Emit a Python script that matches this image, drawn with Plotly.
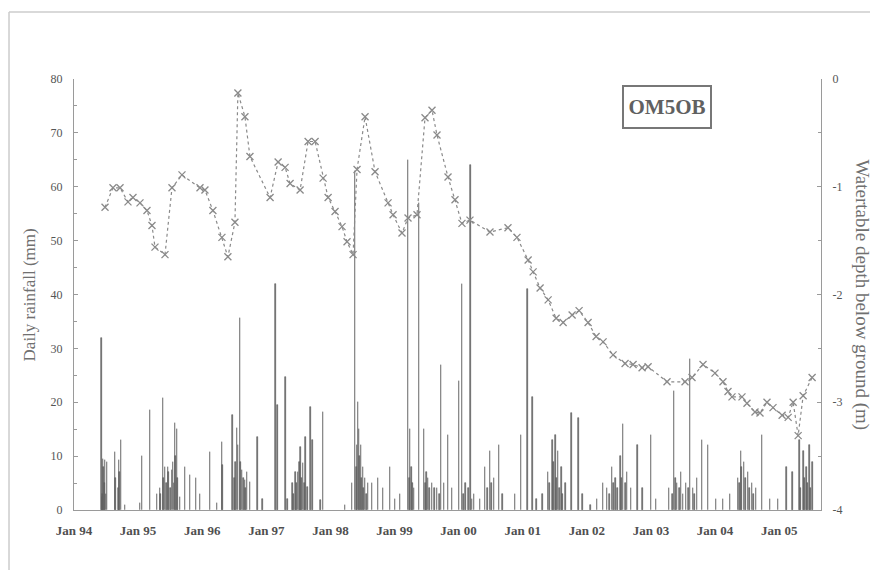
import datetime as dt
import plotly.graph_objects as go

# ---------------- data ----------------
# daily rainfall events (decimal year, mm)
rain_year = [
    1994.432, 1994.437, 1994.452, 1994.484, 1994.515, 1994.640, 1994.702, 1994.733, 1994.796,
    1995.030, 1995.061, 1995.186, 1995.295, 1995.342, 1995.388, 1995.420, 1995.466, 1995.529,
    1995.576, 1995.607, 1995.654, 1995.732, 1995.810, 1995.903, 1995.966,
    1996.122, 1996.231, 1996.309, 1996.324, 1996.480, 1996.543, 1996.590, 1996.621, 1996.668,
    1996.699, 1996.746, 1996.870, 1996.948,
    1997.136, 1997.167, 1997.292, 1997.323, 1997.401, 1997.448, 1997.494, 1997.526, 1997.572,
    1997.604, 1997.635, 1997.682, 1997.713, 1997.838, 1997.884,
    1998.228, 1998.337, 1998.384, 1998.430, 1998.446, 1998.477, 1998.508, 1998.540, 1998.586,
    1998.649, 1998.742, 1998.820, 1998.930,
    1999.008, 1999.086, 1999.210, 1999.242, 1999.304, 1999.382, 1999.460, 1999.522, 1999.585,
    1999.663, 1999.725, 1999.772, 1999.834, 1999.897,
    2000.006, 2000.053, 2000.115, 2000.193, 2000.240, 2000.334, 2000.412, 2000.490, 2000.552,
    2000.630, 2000.692, 2000.880, 2000.973,
    2001.067, 2001.145, 2001.207, 2001.301, 2001.394, 2001.457, 2001.504, 2001.550, 2001.597,
    2001.660, 2001.753, 2001.862, 2001.925,
    2002.050, 2002.159, 2002.252, 2002.315, 2002.393, 2002.440, 2002.518, 2002.564, 2002.627,
    2002.689, 2002.783, 2002.861,
    2003.001, 2003.079, 2003.282, 2003.360, 2003.407, 2003.469, 2003.547, 2003.610, 2003.656,
    2003.719, 2003.797, 2003.890,
    2004.015, 2004.124, 2004.234, 2004.358, 2004.405, 2004.452, 2004.514, 2004.577, 2004.639,
    2004.733, 2004.858, 2004.982,
    2005.107, 2005.201, 2005.310, 2005.372, 2005.419, 2005.466, 2005.513,
    # smaller days inside the wet-season clusters
    1994.445, 1994.460, 1994.470, 1994.500, 1994.650, 1994.690, 1994.712,
    1995.350, 1995.400, 1995.440, 1995.480, 1995.500, 1995.545, 1995.560, 1995.590, 1995.620,
    1996.500, 1996.520, 1996.560, 1996.600, 1996.640, 1996.680,
    1997.420, 1997.470, 1997.510, 1997.550, 1997.590,
    1998.400, 1998.415, 1998.460, 1998.490, 1998.520, 1998.560,
    1999.230, 1999.260, 1999.280, 1999.480, 1999.500, 1999.540, 1999.620, 1999.700,
    2000.080, 2000.160, 2000.210, 2000.450, 2000.520,
    2001.420, 2001.480, 2001.530, 2001.570, 2001.620,
    2002.350, 2002.420, 2002.480, 2002.540, 2002.600,
    2003.330, 2003.380, 2003.440, 2003.500, 2003.580, 2003.680,
    2004.380, 2004.420, 2004.480, 2004.540, 2004.600,
    2005.330, 2005.390, 2005.440, 2005.490,
]
rain_mm = [
    32.0, 2.4, 9.5, 9.3, 9.0, 10.8, 9.3, 13.0, 1.0,
    1.3, 10.0, 18.5, 3.0, 4.0, 20.7, 8.0, 8.0, 7.4,
    16.1, 15.0, 2.4, 8.0, 6.5, 6.0, 3.0,
    10.8, 1.3, 12.6, 8.3, 17.6, 15.2, 35.6, 7.4, 5.6,
    7.0, 5.2, 13.5, 2.0,
    42.0, 19.5, 24.7, 2.0, 5.0, 7.0, 7.0, 11.7, 8.7,
    13.5, 4.3, 19.1, 13.0, 1.9, 18.2,
    1.0, 5.0, 63.0, 20.0, 15.0, 12.0, 8.0, 6.0, 5.0,
    5.0, 6.0, 4.0, 8.0,
    2.0, 3.0, 65.0, 15.0, 4.0, 57.0, 15.0, 6.0, 5.0,
    4.0, 27.0, 5.0, 14.0, 4.0,
    24.0, 42.0, 5.0, 64.0, 3.0, 2.0, 8.0, 11.0, 6.0,
    12.0, 3.0, 3.0, 14.0,
    41.0, 21.0, 2.0, 3.0, 7.0, 13.0, 14.0, 11.0, 8.0,
    5.0, 18.0, 17.0, 3.0,
    1.0, 2.0, 5.0, 4.0, 8.0, 6.0, 10.0, 16.0, 7.0,
    4.0, 12.0, 4.0,
    14.0, 2.0, 4.0, 22.0, 5.0, 7.0, 5.0, 28.0, 4.0,
    6.0, 13.0, 12.0,
    2.0, 2.0, 3.0, 6.0, 11.0, 9.0, 7.0, 5.0, 4.0,
    14.0, 2.0, 2.0,
    8.0, 7.0, 13.0, 11.0, 8.0, 12.0, 9.0,
    3.0, 8.0, 5.0, 3.0, 6.0, 4.0, 7.0,
    3.0, 6.0, 5.0, 7.0, 4.0, 9.0, 5.0, 10.0, 6.0,
    6.0, 9.0, 12.0, 9.0, 6.0, 4.0,
    3.0, 5.0, 9.0, 6.0, 5.0,
    8.0, 12.0, 10.0, 6.0, 4.0, 3.0,
    6.0, 8.0, 5.0, 5.0, 7.0, 4.0, 4.0, 3.0,
    3.0, 4.0, 2.0, 4.0, 5.0,
    5.0, 9.0, 6.0, 4.0, 3.0,
    3.0, 5.0, 4.0, 6.0, 5.0,
    3.0, 6.0, 4.0, 3.0, 4.0, 3.0,
    5.0, 8.0, 6.0, 4.0, 3.0,
    4.0, 6.0, 5.0, 4.0,
]

# watertable depth below ground (decimal year, m)
wt_year = [
    1994.484, 1994.608, 1994.718, 1994.842, 1994.920, 1995.030, 1995.139, 1995.217, 1995.264,
    1995.420, 1995.529, 1995.685, 1995.966, 1996.044, 1996.168, 1996.309, 1996.402, 1996.512,
    1996.558, 1996.668, 1996.746, 1997.058, 1997.183, 1997.292, 1997.370, 1997.526, 1997.651,
    1997.760, 1997.885, 1997.963, 1998.072, 1998.181, 1998.259, 1998.353, 1998.415, 1998.540,
    1998.696, 1998.899, 1998.977, 1999.117, 1999.211, 1999.351, 1999.476, 1999.585, 1999.663,
    1999.835, 1999.944, 2000.053, 2000.178, 2000.490, 2000.771, 2000.911, 2001.083, 2001.161,
    2001.270, 2001.395, 2001.520, 2001.629, 2001.769, 2001.878, 2002.019, 2002.144, 2002.253,
    2002.409, 2002.596, 2002.721, 2002.861, 2002.955, 2003.251, 2003.532, 2003.641, 2003.813,
    2004.000, 2004.125, 2004.203, 2004.265, 2004.421, 2004.499, 2004.624, 2004.702, 2004.811,
    2004.905, 2005.045, 2005.139, 2005.217, 2005.295, 2005.373, 2005.513,
]
wt_depth = [
    -1.19, -1.01, -1.01, -1.14, -1.10, -1.15, -1.22, -1.36, -1.56,
    -1.63, -1.01, -0.89, -1.01, -1.03, -1.22, -1.47, -1.65, -1.33,
    -0.13, -0.35, -0.72, -1.10, -0.77, -0.82, -0.97, -1.03, -0.58,
    -0.58, -0.92, -1.10, -1.23, -1.37, -1.51, -1.63, -0.84, -0.35,
    -0.86, -1.15, -1.26, -1.43, -1.29, -1.26, -0.36, -0.29, -0.52,
    -0.91, -1.12, -1.34, -1.31, -1.42, -1.38, -1.47, -1.68, -1.79,
    -1.94, -2.05, -2.22, -2.26, -2.19, -2.15, -2.26, -2.39, -2.44,
    -2.56, -2.64, -2.65, -2.68, -2.67, -2.81, -2.81, -2.77, -2.65,
    -2.73, -2.81, -2.90, -2.95, -2.95, -3.01, -3.09, -3.10, -3.00,
    -3.05, -3.12, -3.14, -3.00, -3.31, -2.94, -2.77,
]

tick_years = list(range(1994, 2006))
tick_text = ["Jan 94", "Jan 95", "Jan 96", "Jan 97", "Jan 98", "Jan 99",
             "Jan 00", "Jan 01", "Jan 02", "Jan 03", "Jan 04", "Jan 05"]
depth_ticks = [-4, -3, -2, -1, 0]
depth_text = ["-4", "-3", "-2", "-1", "0"]


def to_date(y):
    yi = int(y)
    start = dt.datetime(yi, 1, 1)
    return start + dt.timedelta(days=(y - yi) * 365.25)


rain_x = [to_date(v) for v in rain_year]
wt_x = [to_date(v) for v in wt_year]
tick_vals = [dt.datetime(y, 1, 1) for y in tick_years]

FONT = "Liberation Serif"
TXT = "#555555"
AX = "#9a9a9a"

fig = go.Figure()
fig.add_trace(go.Bar(
    x=rain_x, y=rain_mm, width=5 * 86400000,
    marker=dict(color="#606060", line=dict(color="#606060", width=0.6)),
    name="Daily rainfall", yaxis="y",
))
fig.add_trace(go.Scatter(
    x=wt_x, y=wt_depth, mode="lines+markers", yaxis="y2",
    line=dict(color="#8a8a8a", width=1.2, dash="dot"),
    marker=dict(symbol="x-thin-open", size=7, line=dict(color="#666666", width=1.3)),
    name="Watertable depth",
))

# the page body keeps an 8 px margin, so the figure is 8 px smaller
fig.update_layout(
    width=870, height=562,
    margin=dict(l=66, r=57, t=71, b=60),
    paper_bgcolor="white", plot_bgcolor="white",
    showlegend=False, bargap=0,
    font=dict(family=FONT, size=12, color=TXT),
    xaxis=dict(
        type="date",
        range=[dt.datetime(1994, 1, 1), dt.datetime(2005, 8, 27)],
        tickvals=tick_vals, ticktext=["<b>%s</b>" % t for t in tick_text],
        showline=True, linecolor=AX, linewidth=1,
        ticks="", showgrid=False, zeroline=False,
        ticklabelstandoff=8,
        tickfont=dict(family=FONT, size=13, color="#505050"),
    ),
    yaxis=dict(
        range=[0, 80], dtick=10, tick0=0,
        showline=True, linecolor=AX, linewidth=1,
        ticks="inside", ticklen=4, tickcolor=AX,
        minor=dict(dtick=5, ticks="inside", ticklen=3, tickcolor=AX),
        showgrid=False, zeroline=False,
        ticklabelstandoff=8,
        tickfont=dict(family=FONT, size=12, color=TXT),
    ),
    yaxis2=dict(
        overlaying="y", side="right",
        range=[-4, 0], tickvals=depth_ticks, ticktext=depth_text,
        showline=True, linecolor=AX, linewidth=1,
        ticks="inside", ticklen=4, tickcolor=AX,
        minor=dict(dtick=0.5, ticks="inside", ticklen=3, tickcolor=AX),
        showgrid=False, zeroline=False,
        ticklabelstandoff=8,
        tickfont=dict(family=FONT, size=12, color=TXT),
    ),
    annotations=[
        dict(text="Daily rainfall (mm)", xref="paper", yref="paper",
             x=-0.059, y=0.5, xanchor="center", yanchor="middle",
             textangle=-90, showarrow=False,
             font=dict(family=FONT, size=17, color="#707070")),
        dict(text="Watertable depth below ground (m)", xref="paper", yref="paper",
             x=1.055, y=0.5, xanchor="center", yanchor="middle",
             textangle=90, showarrow=False,
             font=dict(family=FONT, size=19, color="#707070")),
        dict(text="<b>OM5OB</b>", xref="paper", yref="paper",
             x=0.794, y=0.935, xanchor="center", yanchor="middle",
             showarrow=False, width=84, height=38,
             bordercolor="#777777", borderwidth=2, borderpad=1,
             bgcolor="white",
             font=dict(family=FONT, size=21, color="#606060")),
    ],
    shapes=[
        dict(type="line", xref="paper", yref="paper", x0=-0.087, x1=1.07,
             y0=1.1555, y1=1.1555, line=dict(color="#cccccc", width=1.5)),
        dict(type="line", xref="paper", yref="paper", x0=-0.087, x1=-0.087,
             y0=1.1555, y1=-0.15, line=dict(color="#cccccc", width=1.5)),
    ],
)

fig.write_html("out.html")
